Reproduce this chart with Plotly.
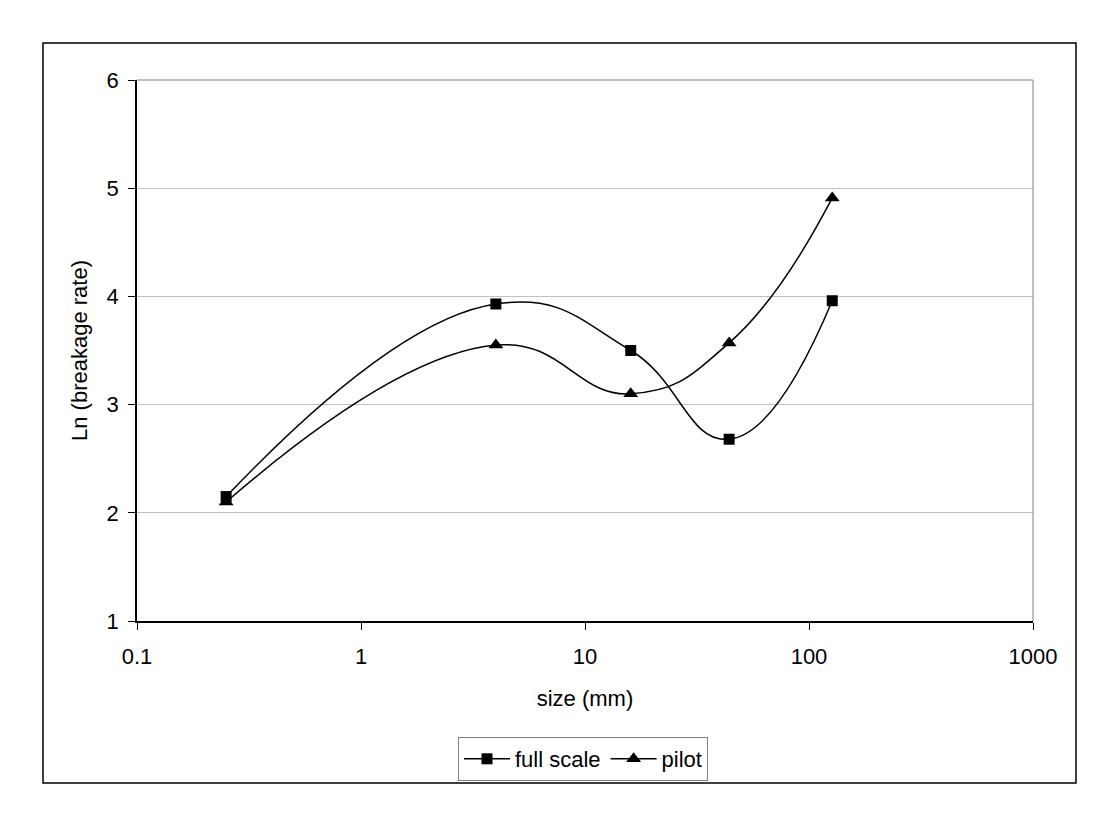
import plotly.graph_objects as go

sizes = [0.25, 4, 16, 44, 127]
full_scale = [2.15, 3.93, 3.50, 2.68, 3.96]
pilot = [2.10, 3.55, 3.10, 3.57, 4.91]

W, H = 1109, 816
L, R, T, B = 137, 1109 - 1033, 80, 816 - 621
pw, ph = W - L - R, H - T - B

fig = go.Figure()
fig.add_trace(go.Scatter(x=sizes, y=full_scale, name="full scale", mode="lines+markers",
                         line=dict(color="black", width=1.5, shape="spline", smoothing=1.3),
                         marker=dict(symbol="square", size=11, color="black")))
fig.add_trace(go.Scatter(x=sizes, y=pilot, name="pilot", mode="lines+markers",
                         line=dict(color="black", width=1.5, shape="spline", smoothing=1.3),
                         marker=dict(symbol="triangle-up", size=13, color="black")))

def px(x): return (x - L) / pw
def py(y): return 1 - (y - T) / ph

fig.update_layout(
    width=W, height=H, margin=dict(l=L, r=R, t=T, b=B),
    paper_bgcolor="white", plot_bgcolor="white",
    font=dict(family="Liberation Sans, Arial", size=22, color="black"),
    xaxis=dict(type="log", range=[-1, 3], tickvals=[0.1, 1, 10, 100, 1000],
               ticktext=["0.1", "1", "10", "100", "1000"],
               showgrid=False, showline=True, linecolor="black", linewidth=1.5,
               ticks="outside", ticklen=7, tickcolor="black", zeroline=False,
               tickfont=dict(size=22), ticklabelstandoff=8,
               title=dict(text="size (mm)", standoff=22, font=dict(size=22))),
    yaxis=dict(range=[1, 6], dtick=1, showgrid=True, gridcolor="#c0c0c0", gridwidth=1,
               showline=True, linecolor="black", linewidth=1.5,
               ticks="outside", ticklen=7, tickcolor="black", zeroline=False,
               tickfont=dict(size=22), ticklabelstandoff=5,
               title=dict(text="Ln (breakage rate)", standoff=13, font=dict(size=22))),
    legend=dict(orientation="h", x=px(583), xanchor="center", y=py(737), yanchor="top",
                bordercolor="#808080", borderwidth=1, font=dict(size=22),
                itemwidth=46, tracegroupgap=0),
    showlegend=True,
    shapes=[
        dict(type="rect", xref="paper", yref="paper", x0=px(43), x1=px(1076), y0=py(783), y1=py(43),
             line=dict(color="black", width=1.5), layer="below"),
        dict(type="line", xref="paper", yref="paper", x0=0, x1=1, y0=1, y1=1,
             line=dict(color="#808080", width=1)),
        dict(type="line", xref="paper", yref="paper", x0=1, x1=1, y0=0, y1=1,
             line=dict(color="#808080", width=1)),
    ],
)

fig.write_html("out.html")
